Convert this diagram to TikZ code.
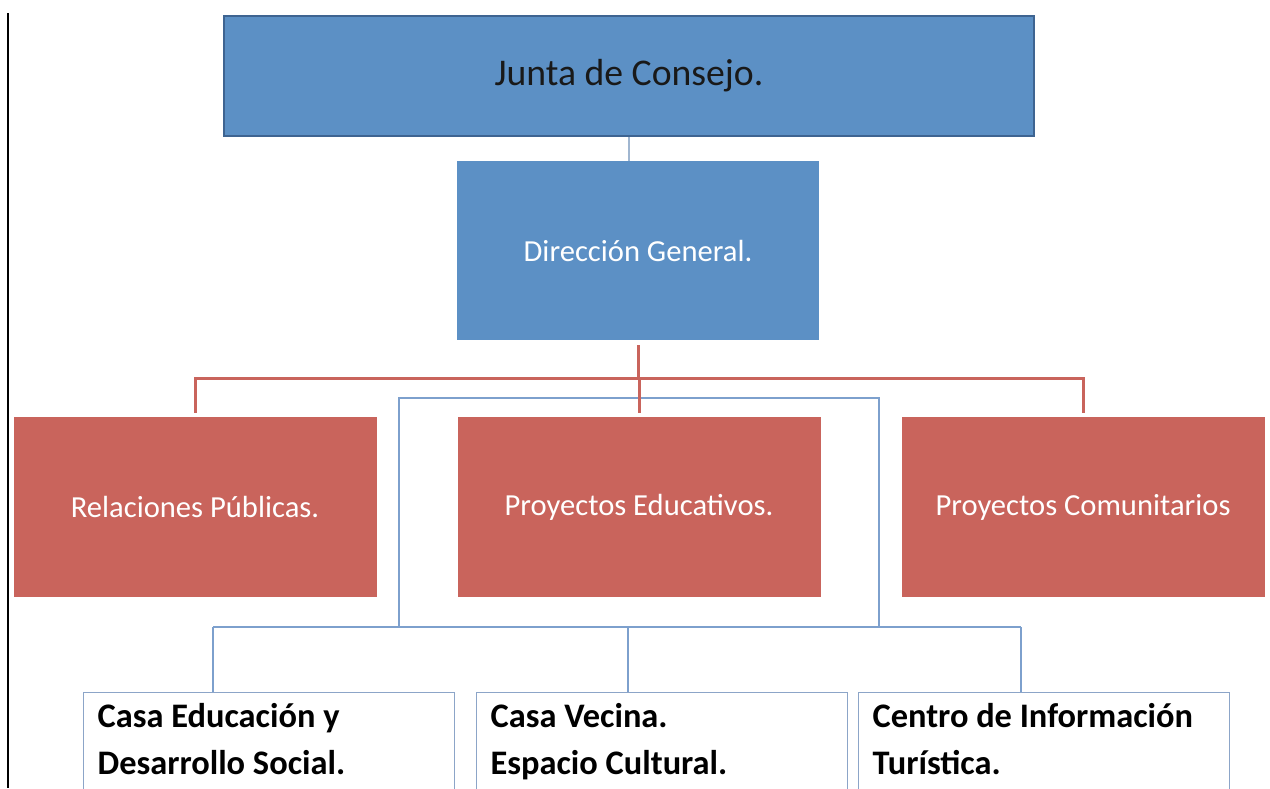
\documentclass[tikz,border=0pt]{standalone}
\usepackage{fontspec}
\setmainfont{Carlito}
\usepackage{tikz}
\definecolor{juntablue}{RGB}{92,144,197}
\definecolor{juntaedge}{RGB}{62,100,145}
\definecolor{juntalink}{RGB}{160,182,208}
\definecolor{areared}{RGB}{201,100,92}
\definecolor{linkblue}{RGB}{125,160,205}
\definecolor{casaedge}{RGB}{140,165,200}

\tikzset{
    bluebox/.style={rectangle, fill=juntablue, inner sep=0pt, text=white, font=\fontsize{30.6}{36}\selectfont},
    redbox/.style={rectangle, fill=areared, minimum width=363pt, minimum height=180pt, inner sep=0pt, text=white, font=\fontsize{30.6}{36}\selectfont},
    casabox/.style={rectangle, draw=casaedge, line width=1.2pt, anchor=north west, text width=343pt, inner xsep=14pt, inner ysep=2pt, align=flush left, font=\bfseries\fontsize{34.4}{47}\selectfont},
    redline/.style={draw=areared, line width=3pt},
    blueline/.style={draw=linkblue, line width=1.3pt}
}

\begin{document}
\begin{tikzpicture}[x=1pt, y=-1pt]
        \clip (0,0) rectangle (1270,788);
        \fill[white] (0,0) rectangle (1270,788);
        \draw[line width=2pt] (8,13) -- (8,788);

        \node[bluebox, draw=juntaedge, line width=2pt, minimum width=810pt, minimum height=120pt, text=black!90, font=\fontsize{37.7}{44}\selectfont] (junta) at (629,76) {Junta de Consejo.};
        \node[bluebox, minimum width=362pt, minimum height=179pt] (dir) at (638,250.5) {Dirección General.};
        \foreach \n/\x/\t in {relac/195/Relaciones Públicas., educ/639/Proyectos Educativos., comun/1083/Proyectos Comunitarios}
        {
            \node[redbox] (\n) at (\x,507) {\t};
        }
        \foreach \n/\x/\a/\b in {casaedu/83/Casa Educación y/Desarrollo Social., vecina/476/Casa Vecina./Espacio Cultural., turismo/858/Centro de Información/Turística.}
        {
            \node[casabox] (\n) at (\x,692) {\strut\a\\\strut\b};
        }

        \draw[draw=juntalink, line width=1.3pt] (junta.south) -- (junta.south |- dir.north);

        \coordinate (bbus) at (628,627);
        \coordinate (bl) at (399,398);
        \coordinate (br) at (879,398);
        \draw[blueline] (bl |- bbus) -- (bl) -- (br) -- (br |- bbus);
        \draw[blueline] ([xshift=130pt]casaedu.north west |- bbus) -- ([xshift=163pt]turismo.north west |- bbus);
        \foreach \n/\d in {casaedu/130, vecina/152, turismo/163}
        {
            \draw[blueline] ([xshift=\d pt]\n.north west |- bbus) -- ([xshift=\d pt]\n.north west);
        }

        \coordinate (rbus) at (637,378);
        \draw[redline, shorten <=5pt] (dir.south) -- (dir.south |- rbus);
        \foreach \n in {relac, comun}
        {
            \draw[redline, shorten >=4pt] (rbus) -| (\n.north);
        }
        \draw[redline, shorten >=4pt] (educ.north |- rbus) -- (educ.north);
    \end{tikzpicture}
\end{document}
